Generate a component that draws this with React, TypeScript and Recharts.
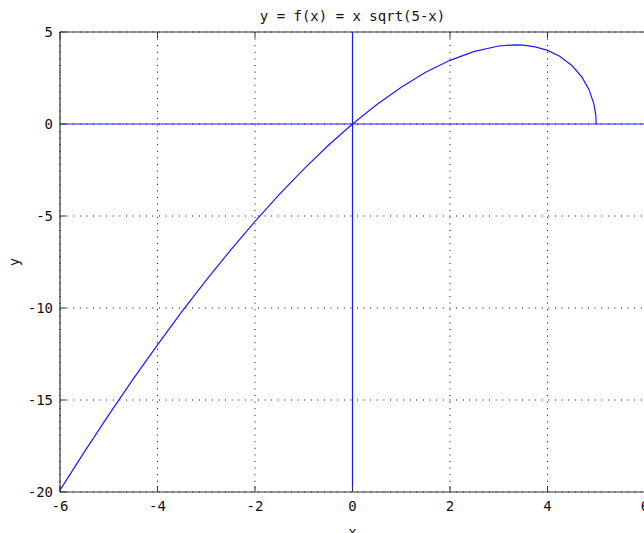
import React from 'react';
import { ComposedChart, Line, XAxis, YAxis, CartesianGrid, ReferenceLine } from 'recharts';

// Sampled points of y = x*sqrt(5-x)
const xValues = [-6, -5.5, -5, -4.5, -4, -3.5, -3, -2.5, -2, -1.5, -1, -0.5, 0, 0.5, 1, 1.5, 2, 2.5, 3, 3.33, 3.5, 3.75, 4, 4.25, 4.5, 4.7, 4.85, 4.95, 4.99, 5];
const yValues = [-19.9, -17.82, -15.81, -13.87, -12, -10.2, -8.49, -6.85, -5.29, -3.82, -2.45, -1.17, 0, 1.06, 2, 2.81, 3.46, 3.95, 4.24, 4.3, 4.29, 4.19, 4, 3.68, 3.18, 2.57, 1.88, 1.11, 0.5, 0];

const xTicks = [-6, -4, -2, 0, 2, 4, 6];
const yTicks = [-20, -15, -10, -5, 0, 5];
const xDomain: [number, number] = [-6, 6];
const yDomain: [number, number] = [-20, 5];

const titleText = 'y = f(x) = x sqrt(5-x)';
const xLabel = 'x';
const yLabel = 'y';

const data = xValues.map((x, i) => ({ x, y: yValues[i] }));

const FONT = '"DejaVu Sans Mono", "Liberation Mono", monospace';
const AXIS = '#333333';
const TEXT = '#111111';
const BLUE = '#1a1aff';
const TICK_SIZE = 6;
const TICK_MARGIN = 1;
const IN_TICK = 6;
// inward tick length along the top edge, as a share of the y range
const TOP_TICK_FRAC = 0.013;

const XTick = (props: any) => {
  const { x, y, payload } = props;
  const axisY = y - TICK_SIZE - TICK_MARGIN;
  return (
    <g>
      <line x1={x} x2={x} y1={axisY} y2={axisY - IN_TICK} stroke={AXIS} strokeWidth={1} />
      <text x={x} y={axisY + 8} dy="0.75em" textAnchor="middle" fontFamily={FONT} fontSize={14} fill={TEXT}>
        {payload.value}
      </text>
    </g>
  );
};

const YTick = (props: any) => {
  const { x, y, payload } = props;
  const axisX = x + TICK_SIZE + TICK_MARGIN;
  return (
    <g>
      <line x1={axisX} x2={axisX + IN_TICK} y1={y} y2={y} stroke={AXIS} strokeWidth={1} />
      <text x={axisX - 7} y={y} dy="0.36em" textAnchor="end" fontFamily={FONT} fontSize={14} fill={TEXT}>
        {payload.value}
      </text>
    </g>
  );
};

export default function App() {
  const yTop = yDomain[1];
  const topTickLen = (yDomain[1] - yDomain[0]) * TOP_TICK_FRAC;
  return (
    <div style={{ position: 'absolute', left: 0, top: 0, width: 644, height: 533, overflow: 'hidden', background: '#fff' }}>
      <ComposedChart width={650} height={533} data={data} margin={{ top: 32, right: 5, bottom: 11, left: 0 }}>
        <CartesianGrid stroke="#000" strokeDasharray="1 5.6" horizontalValues={yTicks} verticalValues={xTicks} />
        <XAxis
          dataKey="x"
          type="number"
          domain={xDomain}
          ticks={xTicks}
          interval={0}
          height={30}
          tickSize={TICK_SIZE}
          tickMargin={TICK_MARGIN}
          tickLine={false}
          axisLine={{ stroke: AXIS, strokeWidth: 1.2 }}
          tick={<XTick />}
          allowDataOverflow
        />
        <YAxis
          type="number"
          domain={yDomain}
          ticks={yTicks}
          interval={0}
          width={60}
          tickSize={TICK_SIZE}
          tickMargin={TICK_MARGIN}
          tickLine={false}
          axisLine={{ stroke: AXIS, strokeWidth: 1.2 }}
          tick={<YTick />}
          allowDataOverflow
        />
        {/* top frame edge with inward ticks */}
        <ReferenceLine y={yTop} stroke={AXIS} strokeWidth={1.2} />
        {xTicks.map((t) => (
          <ReferenceLine
            key={`tt${t}`}
            segment={[{ x: t, y: yTop }, { x: t, y: yTop - topTickLen }]}
            stroke={AXIS}
            strokeWidth={1}
          />
        ))}
        <ReferenceLine y={0} stroke={BLUE} strokeWidth={1.2} />
        <ReferenceLine x={0} stroke={BLUE} strokeWidth={1.2} />
        <Line type="linear" dataKey="y" stroke={BLUE} strokeWidth={1.2} dot={false} isAnimationActive={false} />
        <text x={352.5} y={21} textAnchor="middle" fontFamily={FONT} fontSize={14} fill={TEXT}>
          {titleText}
        </text>
        <text x={352.5} y={537} textAnchor="middle" fontFamily={FONT} fontSize={14} fill={TEXT}>
          {xLabel}
        </text>
        <text x={19} y={262} textAnchor="middle" fontFamily={FONT} fontSize={14} fill={TEXT} transform="rotate(-90 19 262)">
          {yLabel}
        </text>
      </ComposedChart>
    </div>
  );
}
